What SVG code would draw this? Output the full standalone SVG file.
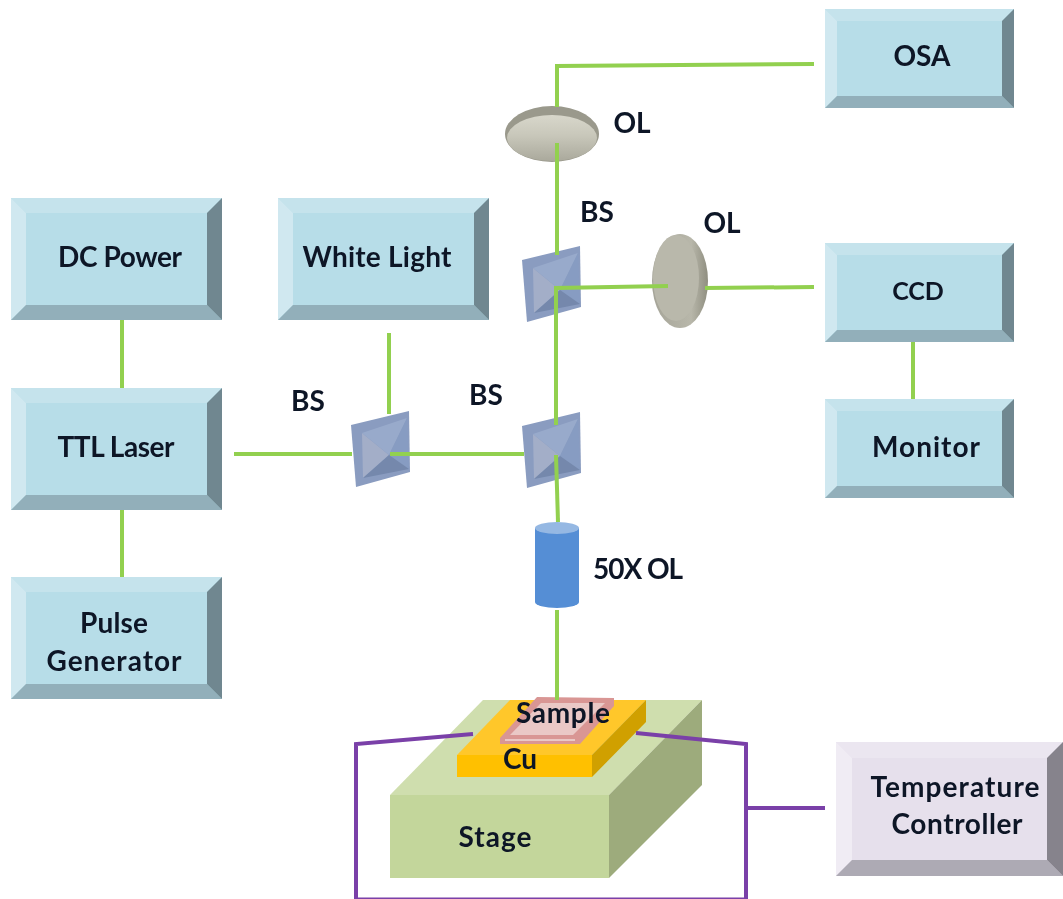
<svg xmlns="http://www.w3.org/2000/svg" width="1063" height="899" viewBox="0 0 1063 899">
<style>
text{font-family:"Lato","Open Sans","Liberation Sans",sans-serif;font-weight:700;font-size:28px;fill:#0d1526;text-anchor:middle}
.g{fill:none;stroke:#92d050;stroke-width:4}
.p{fill:none;stroke:#7a3fa8;stroke-width:4}
.face{fill:#b7dde8}.t{fill:#c5e3ec}.l{fill:#d0e8f0}.b{fill:#92afba}.r{fill:#6f8790}
.lface{fill:#e6e0ec}.lt{fill:#ebe6f0}.ll{fill:#f0ecf4}.lb{fill:#adaab4}.lr{fill:#86838c}
#all{filter:url(#soft)}
</style>
<defs>
<filter id="soft" x="0" y="0" width="100%" height="100%"><feGaussianBlur stdDeviation="0.7"/></filter>
<g id="mirror">
<path d="M-1 13L57 -1L58 60L4 75Z" fill="#8a9cc0"/>
<path d="M10 21L37 43L11 66Z" fill="#a3aec8"/>
<path d="M10 21L55 6L37 43Z" fill="#98aacb"/>
<path d="M55 6L57 57L37 43Z" fill="#879cc2"/>
<path d="M57 57L11 66L37 43Z" fill="#7488ac"/>
</g>
<linearGradient id="lensH" x1="0" y1="0" x2="0" y2="1">
<stop offset="0" stop-color="#d8d7cb"/><stop offset=".45" stop-color="#c8c7ba"/><stop offset="1" stop-color="#aaa99c"/>
</linearGradient>
<linearGradient id="lensV" x1="0" y1="0" x2="1" y2="0">
<stop offset="0" stop-color="#a5a498"/><stop offset=".7" stop-color="#b8b7aa"/><stop offset="1" stop-color="#8f8e80"/>
</linearGradient>
</defs>
<g id="all">
<g id="stage">
<path d="M390 795L483 700H702L609 795Z" fill="#cfdeae"/>
<path d="M609 795L702 700V785L609 878Z" fill="#9dab7c"/>
<rect x="390" y="795" width="219" height="83" fill="#c3d69b"/>
<text x="495" y="847" textLength="73">Stage</text>
</g>
<g id="cu">
<path d="M457 755L510 700H646L592 755Z" fill="#ffc72c"/>
<path d="M592 755L646 700V722L592 777Z" fill="#d0a000"/>
<rect x="457" y="755" width="135" height="22" fill="#ffc000"/>
<text x="520" y="769">Cu</text>
</g>
<g id="sample">
<path d="M537 697L614 698V706L580 744H500V738Z" fill="#d99694"/>
<path d="M541 703L605 703L573 735H510Z" fill="#eac8c6"/>
<path d="M505 740H575" stroke="#eac8c6" stroke-width="2" fill="none"/>
<text x="563" y="723" textLength="94">Sample</text>
</g>

<g id="lens-top">
<ellipse cx="552" cy="134" rx="47" ry="28" fill="#9a998c"/>
<ellipse cx="552" cy="138" rx="45" ry="23" fill="url(#lensH)"/>
</g>
<g id="lens-right">
<ellipse cx="680" cy="281" rx="28" ry="47" fill="url(#lensV)"/>
<ellipse cx="676" cy="278" rx="23" ry="43" fill="#b9b8ab"/>
</g>
<g id="mirror-1"><use href="#mirror" x="523" y="247"/></g>
<g id="mirror-2"><use href="#mirror" x="352" y="412"/></g>
<g id="mirror-3"><use href="#mirror" x="523" y="413"/></g>
<g id="objective">
<path d="M535 528V602A22 6 0 0 0 579 602V528Z" fill="#558ed5"/>
<ellipse cx="557" cy="528" rx="22" ry="6" fill="#95b8e3"/>
<text x="638" y="579" textLength="90">50X OL</text>
</g>

<g id="connectors">
<path class="g" d="M814 64L557 66V107"/>
<path class="g" d="M557 143V255"/>
<path class="g" d="M556 420V288L668 286"/>
<path class="g" d="M705 288L814 287"/>
<path class="g" d="M389 333V414"/>
<path class="g" d="M234 454H352"/>
<path class="g" d="M390 454H524"/>
<path class="g" d="M556 355V425"/>
<path class="g" d="M556 455L558 522"/>
<path class="g" d="M557 610V700"/>
<path class="g" d="M122 320V388"/>
<path class="g" d="M122 510V577"/>
<path class="g" d="M913 342V399"/>
<path class="p" d="M473 734L356 744V899.500H746V744L636 733"/>
<path class="p" d="M746 808H825"/>
</g>

<g id="dc-power">
<rect class="face" x="11" y="198" width="211" height="122"/>
<path class="t" d="M11 198H222L207 213H26Z"/><path class="l" d="M11 198V320L26 305V213Z"/><path class="b" d="M11 320H222L207 305H26Z"/><path class="r" d="M222 198V320L207 305V213Z"/>
<text x="120" y="267" textLength="124">DC Power</text>
</g>
<g id="white-light">
<rect class="face" x="278" y="198" width="211" height="122"/>
<path class="t" d="M278 198H489L474 213H293Z"/><path class="l" d="M278 198V320L293 305V213Z"/><path class="b" d="M278 320H489L474 305H293Z"/><path class="r" d="M489 198V320L474 305V213Z"/>
<text x="377" y="267" textLength="149">White Light</text>
</g>
<g id="ttl-laser">
<rect class="face" x="11" y="388" width="211" height="122"/>
<path class="t" d="M11 388H222L207 403H26Z"/><path class="l" d="M11 388V510L26 495V403Z"/><path class="b" d="M11 510H222L207 495H26Z"/><path class="r" d="M222 388V510L207 495V403Z"/>
<text x="116" y="457" textLength="117">TTL Laser</text>
</g>
<g id="pulse-generator">
<rect class="face" x="11" y="577" width="211" height="122"/>
<path class="t" d="M11 577H222L207 592H26Z"/><path class="l" d="M11 577V699L26 684V592Z"/><path class="b" d="M11 699H222L207 684H26Z"/><path class="r" d="M222 577V699L207 684V592Z"/>
<text x="114" y="633" textLength="68">Pulse</text><text x="114" y="671" textLength="135">Generator</text>
</g>
<g id="osa">
<rect class="face" x="825" y="9" width="189" height="99"/>
<path class="t" d="M825 9H1014L1002 21H837Z"/><path class="l" d="M825 9V108L837 96V21Z"/><path class="b" d="M825 108H1014L1002 96H837Z"/><path class="r" d="M1014 9V108L1002 96V21Z"/>
<text x="922" y="66">OSA</text>
</g>
<g id="ccd">
<rect class="face" x="825" y="243" width="189" height="99"/>
<path class="t" d="M825 243H1014L1002 255H837Z"/><path class="l" d="M825 243V342L837 330V255Z"/><path class="b" d="M825 342H1014L1002 330H837Z"/><path class="r" d="M1014 243V342L1002 330V255Z"/>
<text x="918" y="300" style="font-size:25px">CCD</text>
</g>
<g id="monitor">
<rect class="face" x="825" y="399" width="189" height="99"/>
<path class="t" d="M825 399H1014L1002 411H837Z"/><path class="l" d="M825 399V498L837 486V411Z"/><path class="b" d="M825 498H1014L1002 486H837Z"/><path class="r" d="M1014 399V498L1002 486V411Z"/>
<text x="926" y="457" textLength="108">Monitor</text>
</g>
<g id="temperature-controller">
<rect class="lface" x="836" y="742" width="227" height="134"/>
<path class="lt" d="M836 742H1063L1047 758H852Z"/><path class="ll" d="M836 742V876L852 860V758Z"/><path class="lb" d="M836 876H1063L1047 860H852Z"/><path class="lr" d="M1063 742V876L1047 860V758Z"/>
<text x="955" y="797" textLength="169">Temperature</text><text x="957" y="834" textLength="131">Controller</text>
</g>
<g id="labels">
<text x="632" y="133">OL</text>
<text x="722" y="233">OL</text>
<text x="597" y="222">BS</text>
<text x="308" y="411">BS</text>
<text x="486" y="405">BS</text>
</g>
</g>
</svg>
